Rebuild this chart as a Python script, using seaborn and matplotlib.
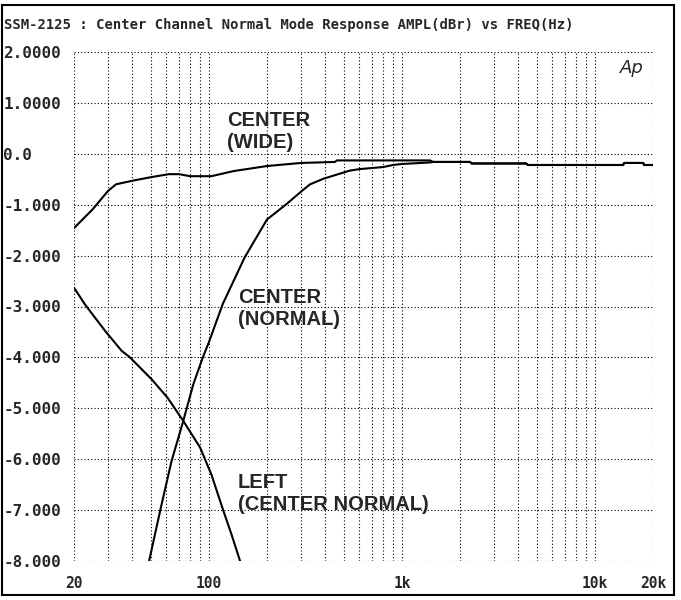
import numpy as np
import pandas as pd
import seaborn as sns
import matplotlib
matplotlib.use('Agg')
import matplotlib.pyplot as plt
from matplotlib.patches import Rectangle
from matplotlib.ticker import FixedLocator, LogLocator, NullFormatter

sns.set_style('white')

title = 'SSM-2125 : Center Channel Normal Mode Response AMPL(dBr) vs FREQ(Hz)'

# frequency (Hz) / level (dBr)
wide_freq = [20, 25, 30, 33, 40, 50, 62, 70, 80, 103, 134, 200, 300, 450, 460,
             1400, 1450, 2250, 2300, 4400, 4500, 14000, 14200, 17800, 18000, 20000]
wide_level = [-1.46, -1.09, -0.73, -0.60, -0.53, -0.46, -0.40, -0.40, -0.44, -0.44,
              -0.34, -0.24, -0.18, -0.16, -0.13, -0.13, -0.16, -0.16, -0.19, -0.19,
              -0.22, -0.22, -0.18, -0.18, -0.22, -0.22]

normal_freq = [49, 56, 64, 73, 83, 93, 100, 118, 153, 200, 252, 303, 334, 392, 537,
               606, 800, 900, 1000, 1400, 1450, 2250, 2300, 4400, 4500, 14000,
               14200, 17800, 18000, 20000]
normal_level = [-8.0, -7.0, -6.04, -5.3, -4.53, -4.0, -3.7, -2.95, -2.04, -1.29, -0.99,
                -0.73, -0.60, -0.49, -0.33, -0.30, -0.26, -0.22, -0.20, -0.17, -0.16,
                -0.16, -0.19, -0.19, -0.22, -0.22, -0.18, -0.18, -0.22, -0.22]

left_freq = [20, 22.8, 29, 35.3, 39, 50.5, 61, 73.7, 90, 103, 119, 131, 145]
left_level = [-2.63, -2.96, -3.48, -3.87, -4.0, -4.43, -4.79, -5.25, -5.77, -6.30,
              -7.02, -7.48, -8.0]

x_ticks = [20, 100, 1000, 10000, 20000]
x_labels = ['20', '100', '1k', '10k', '20k']
y_ticks = [2, 1, 0, -1, -2, -3, -4, -5, -6, -7, -8]
y_labels = ['2.0000', '1.0000', '0.0', '-1.000', '-2.000', '-3.000', '-4.000',
            '-5.000', '-6.000', '-7.000', '-8.000']

df = pd.concat([
    pd.DataFrame({'freq': wide_freq, 'level': wide_level, 'curve': 'wide'}),
    pd.DataFrame({'freq': normal_freq, 'level': normal_level, 'curve': 'normal'}),
    pd.DataFrame({'freq': left_freq, 'level': left_level, 'curve': 'left'}),
])

fig = plt.figure(figsize=(6.81, 6.00), dpi=100)
ax = fig.add_axes([74 / 681, 1 - 561 / 600, 579 / 681, 509 / 600])

sns.lineplot(data=df, x='freq', y='level', units='curve', estimator=None, sort=False,
             color='black', lw=1.5, ax=ax)

ax.set_xscale('log')
ax.set_xlim(20, 20000)
ax.set_ylim(-8, 2)
ax.xaxis.set_major_locator(FixedLocator(x_ticks))
ax.set_xticklabels(x_labels)
ax.xaxis.set_minor_locator(LogLocator(base=10, subs=range(2, 10)))
ax.xaxis.set_minor_formatter(NullFormatter())
ax.set_yticks(y_ticks)
ax.set_yticklabels(y_labels)
ax.set_xlabel('')
ax.set_ylabel('')

for lab in ax.get_xticklabels():
    lab.set_fontfamily('DejaVu Sans Mono')
    lab.set_fontweight('bold')
    lab.set_fontsize(10.5)
for lab in ax.get_yticklabels():
    lab.set_fontfamily('DejaVu Sans Mono')
    lab.set_fontweight('bold')
    lab.set_fontsize(11.5)
    lab.set_horizontalalignment('left')
ax.tick_params(axis='y', pad=51, length=0)
ax.tick_params(axis='x', which='both', pad=11, length=0)

ax.grid(True, which='major', axis='both', color='black', linestyle=(0, (1, 2)), lw=0.8)
ax.grid(True, which='minor', axis='x', color='black', linestyle=(0, (1, 2)), lw=0.8)
for s in ax.spines.values():
    s.set_visible(False)

lab_font = dict(family='Liberation Sans', weight='bold', size=14.5, linespacing=1.2,
                ha='left', va='top')
ax.text(123.6, 0.85, 'CENTER\n(WIDE)', **lab_font)
ax.text(141, -2.63, 'CENTER\n(NORMAL)', **lab_font)
ax.text(141, -6.27, 'LEFT\n(CENTER NORMAL)', **lab_font)

ax.text(0.964, 0.969, 'Ap', transform=ax.transAxes, ha='center', va='center',
        family='DejaVu Sans', style='italic', size=13)

fig.text(4 / 681, 1 - 25 / 600, title, ha='left', va='center',
         family='DejaVu Sans Mono', weight='bold', size=10)
fig.patches.append(Rectangle((2 / 681, 5 / 600), 672 / 681, 590 / 600, fill=False,
                             edgecolor='black', lw=1.5, transform=fig.transFigure))

fig.savefig('out.png', dpi=100)
